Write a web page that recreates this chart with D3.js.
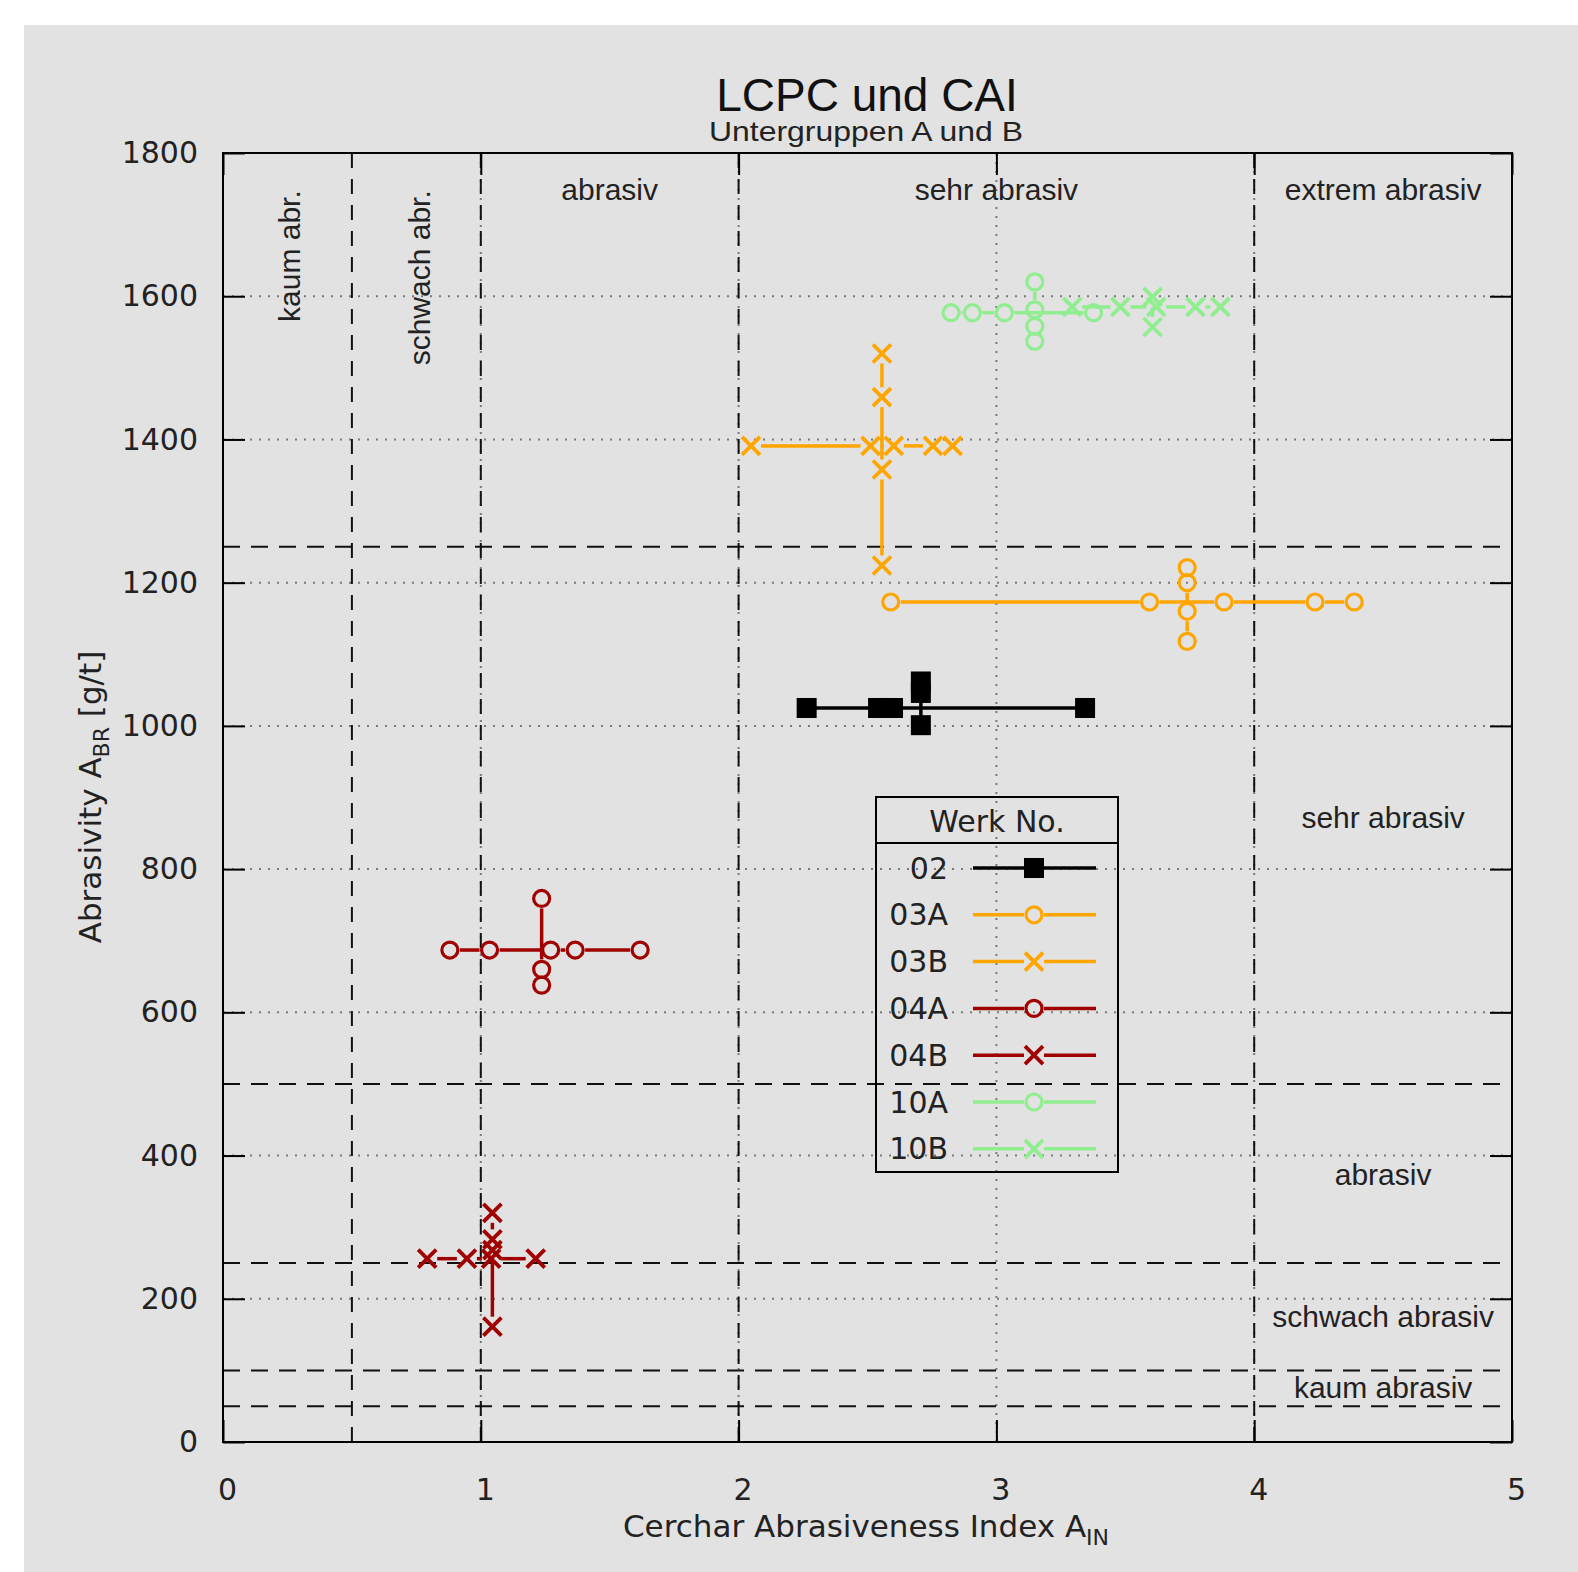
<!DOCTYPE html>
<html>
<head>
<meta charset="utf-8">
<script src="https://cdn.jsdelivr.net/npm/d3@7"></script>
<style>
  body { margin: 0; background: #fff; }
  svg { display: block; }
</style>
</head>
<body>
<svg id="chart"></svg>
<script>
// Werk series: each one is a cross, CAI values plotted at the mean ABR,
// ABR values plotted at the mean CAI
const werk    = ["02", "03A", "03B", "04A", "04B", "10A", "10B"];
const caiMean = [2.707, 3.740, 2.556, 1.236, 1.045, 3.149, 3.606];
const abrMean = [1025, 1173, 1391, 687, 256, 1577, 1585];
const caiRow = [
  [2.264, 2.541, 2.599, 3.344],
  [2.590, 3.594, 3.883, 4.236, 4.388],
  [2.048, 2.512, 2.602, 2.754, 2.830],
  [0.880, 1.034, 1.271, 1.366, 1.618],
  [0.792, 0.946, 1.040, 1.213],
  [2.824, 2.907, 3.031, 3.377],
  [3.294, 3.481, 3.620, 3.772, 3.869]
];
const abrCol = [
  [1062, 1046, 1001],
  [1221, 1200, 1160, 1118],
  [1520, 1459, 1358, 1224],
  [759, 660, 638],
  [320, 283, 268, 161],
  [1620, 1581, 1558, 1537],
  [1599, 1557]
];
const colors  = ["#000000", "#ffa500", "#ffa500", "#a00000", "#a00000", "#90ee90", "#90ee90"];
const symbols = ["square", "circle", "cross", "circle", "cross", "circle", "cross"];

// classification boundaries
const caiClassLines = [0.5, 1, 2, 4];
const abrClassLines = [50, 100, 250, 500, 1250];
const xTicks = [0, 1, 2, 3, 4, 5];
const yTicks = [0, 200, 400, 600, 800, 1000, 1200, 1400, 1600, 1800];

const W = 1578, H = 1572;
const svg = d3.select('#chart').attr('width', W).attr('height', H);

svg.append('rect')
  .attr('x', 24).attr('y', 25)
  .attr('width', W - 24).attr('height', H - 25)
  .attr('fill', '#e2e2e2');

const pL = 223, pR = 1512, pT = 153, pB = 1442;
const x = d3.scaleLinear().domain([0, 5]).range([pL, pR]);
const y = d3.scaleLinear().domain([0, 1800]).range([pB, pT]);

const dejavu = "'DejaVu Sans', sans-serif";
const liber = "'Liberation Sans', Arial, sans-serif";

// dotted grid
const grid = svg.append('g')
  .attr('stroke', '#7a7a7a').attr('stroke-width', 2).attr('stroke-dasharray', '2,7');
grid.selectAll('.gy').data(yTicks.slice(1, -1)).enter().append('line')
  .attr('x1', pL).attr('x2', pR)
  .attr('y1', d => y(d)).attr('y2', d => y(d));
grid.selectAll('.gx').data(xTicks.slice(1, -1)).enter().append('line')
  .attr('y1', pT).attr('y2', pB)
  .attr('x1', d => x(d)).attr('x2', d => x(d));

// dashed class boundaries
const cls = svg.append('g').attr('stroke', '#111').attr('stroke-width', 2);
cls.selectAll('.ch').data(abrClassLines).enter().append('line')
  .attr('x1', pL).attr('x2', pR)
  .attr('y1', d => y(d)).attr('y2', d => y(d))
  .attr('stroke-dasharray', '17,11');
cls.selectAll('.cv').data(caiClassLines).enter().append('line')
  .attr('y1', pB).attr('y2', pT)
  .attr('x1', d => x(d)).attr('x2', d => x(d))
  .attr('stroke-dasharray', '15,11');

// axes, ticks pointing inward and mirrored
function styleAxis(g) {
  g.select('.domain').remove();
  g.selectAll('line').attr('stroke', '#000').attr('stroke-width', 2);
  g.selectAll('text').attr('font-family', dejavu).attr('font-size', 30).attr('fill', '#222');
}
svg.append('g').attr('transform', `translate(${pL},0)`)
  .call(d3.axisLeft(y).tickValues(yTicks).tickFormat(d3.format('d')).tickSize(-22).tickPadding(25))
  .call(styleAxis);
svg.append('g').attr('transform', `translate(${pR},0)`)
  .call(d3.axisRight(y).tickValues(yTicks).tickSize(-22).tickFormat(''))
  .call(styleAxis);
svg.append('g').attr('transform', `translate(0,${pB})`)
  .call(d3.axisBottom(x).tickValues(xTicks).tickFormat(d3.format('d')).tickSize(-22).tickPadding(37))
  .call(styleAxis)
  .selectAll('text').attr('dx', 4);
svg.append('g').attr('transform', `translate(0,${pT})`)
  .call(d3.axisTop(x).tickValues(xTicks).tickSize(-22).tickFormat(''))
  .call(styleAxis);

svg.append('rect')
  .attr('x', pL).attr('y', pT)
  .attr('width', pR - pL).attr('height', pB - pT)
  .attr('fill', 'none').attr('stroke', '#000').attr('stroke-width', 2);

// class labels
const topLabels = [["abrasiv", 1.5], ["sehr abrasiv", 3], ["extrem abrasiv", 4.5]];
svg.selectAll('.tl').data(topLabels).enter().append('text')
  .attr('x', d => x(d[1])).attr('y', y(1734))
  .attr('text-anchor', 'middle')
  .attr('font-family', liber).attr('font-size', 30).attr('fill', '#222')
  .text(d => d[0]);

const sideLabels = [["sehr abrasiv", 857], ["abrasiv", 359], ["schwach abrasiv", 161], ["kaum abrasiv", 61]];
svg.selectAll('.sl').data(sideLabels).enter().append('text')
  .attr('x', x(4.5)).attr('y', d => y(d[1]))
  .attr('text-anchor', 'middle')
  .attr('font-family', liber).attr('font-size', 30).attr('fill', '#222')
  .text(d => d[0]);

const rotLabels = [["kaum abr.", 0.299], ["schwach abr.", 0.803]];
svg.selectAll('.rl').data(rotLabels).enter().append('text')
  .attr('transform', d => `translate(${x(d[1])},${y(1748)}) rotate(-90)`)
  .attr('text-anchor', 'end')
  .attr('font-family', liber).attr('font-size', 30).attr('fill', '#222')
  .text(d => d[0]);

// titles
svg.append('text').attr('x', 867).attr('y', 111)
  .attr('text-anchor', 'middle').attr('font-family', liber).attr('font-size', 46).attr('fill', '#111')
  .text('LCPC und CAI');
svg.append('text').attr('x', 866).attr('y', 141)
  .attr('text-anchor', 'middle').attr('font-family', liber).attr('font-size', 28).attr('fill', '#222')
  .attr('textLength', 314).attr('lengthAdjust', 'spacingAndGlyphs')
  .text('Untergruppen A und B');

const xl = svg.append('text').attr('x', 866).attr('y', 1537)
  .attr('text-anchor', 'middle').attr('font-family', dejavu).attr('font-size', 31).attr('fill', '#222');
xl.append('tspan').text('Cerchar Abrasiveness Index A');
xl.append('tspan').attr('dy', 8).attr('font-size', 22).text('IN');

const yl = svg.append('text').attr('transform', 'translate(101,797) rotate(-90)')
  .attr('text-anchor', 'middle').attr('font-family', dejavu).attr('font-size', 31).attr('fill', '#222');
yl.append('tspan').text('Abrasivity A');
yl.append('tspan').attr('dy', 8).attr('font-size', 22).text('BR');
yl.append('tspan').attr('dy', -8).text(' [g/t]');

// markers
function drawMarker(g, type, color, px, py) {
  if (type === 'square') {
    g.append('rect').attr('x', px - 10).attr('y', py - 10)
      .attr('width', 20).attr('height', 20).attr('fill', color);
  } else if (type === 'circle') {
    g.append('circle').attr('cx', px).attr('cy', py).attr('r', 8)
      .attr('fill', 'none').attr('stroke', color).attr('stroke-width', 3.2);
  } else {
    const s = 9;
    g.append('path')
      .attr('d', `M${px - s},${py - s}L${px + s},${py + s}M${px - s},${py + s}L${px + s},${py - s}`)
      .attr('stroke', color).attr('stroke-width', 3.8).attr('fill', 'none');
  }
}

// line through marker points, leaving a small gap round each marker
function gappedLine(g, pts, color, gap) {
  for (let i = 0; i < pts.length - 1; i++) {
    const [x1, y1] = pts[i], [x2, y2] = pts[i + 1];
    const len = Math.hypot(x2 - x1, y2 - y1);
    if (len <= 2 * gap) continue;
    const ux = (x2 - x1) / len, uy = (y2 - y1) / len;
    g.append('line')
      .attr('x1', x1 + ux * gap).attr('y1', y1 + uy * gap)
      .attr('x2', x2 - ux * gap).attr('y2', y2 - uy * gap)
      .attr('stroke', color).attr('stroke-width', 3.5);
  }
}

const data = svg.append('g');
werk.forEach((name, i) => {
  const g = data.append('g');
  const gap = symbols[i] === 'square' ? 0 : 10;
  const rowPts = caiRow[i].slice().sort(d3.ascending).map(c => [x(c), y(abrMean[i])]);
  const colPts = abrCol[i].slice().sort(d3.ascending).map(a => [x(caiMean[i]), y(a)]);
  gappedLine(g, rowPts, colors[i], gap);
  gappedLine(g, colPts, colors[i], gap);
  rowPts.concat(colPts).forEach(p => drawMarker(g, symbols[i], colors[i], p[0], p[1]));
});

// legend
const lg = svg.append('g');
lg.append('rect').attr('x', 876).attr('y', 797).attr('width', 242).attr('height', 375)
  .attr('fill', 'none').attr('stroke', '#000').attr('stroke-width', 2);
lg.append('line').attr('x1', 876).attr('x2', 1118).attr('y1', 843).attr('y2', 843)
  .attr('stroke', '#000').attr('stroke-width', 2);
lg.append('text').attr('x', 997).attr('y', 832)
  .attr('text-anchor', 'middle').attr('font-family', dejavu).attr('font-size', 30).attr('fill', '#222')
  .text('Werk No.');
werk.forEach((name, i) => {
  const ry = 868 + i * 46.8;
  lg.append('text').attr('x', 948).attr('y', ry + 10.5)
    .attr('text-anchor', 'end').attr('font-family', dejavu).attr('font-size', 30).attr('fill', '#222')
    .text(name);
  const gap = symbols[i] === 'square' ? 0 : 10;
  lg.append('line').attr('x1', 973).attr('x2', 1034 - gap).attr('y1', ry).attr('y2', ry)
    .attr('stroke', colors[i]).attr('stroke-width', 3.5);
  lg.append('line').attr('x1', 1034 + gap).attr('x2', 1096).attr('y1', ry).attr('y2', ry)
    .attr('stroke', colors[i]).attr('stroke-width', 3.5);
  drawMarker(lg, symbols[i], colors[i], 1034, ry);
});
</script>
</body>
</html>
